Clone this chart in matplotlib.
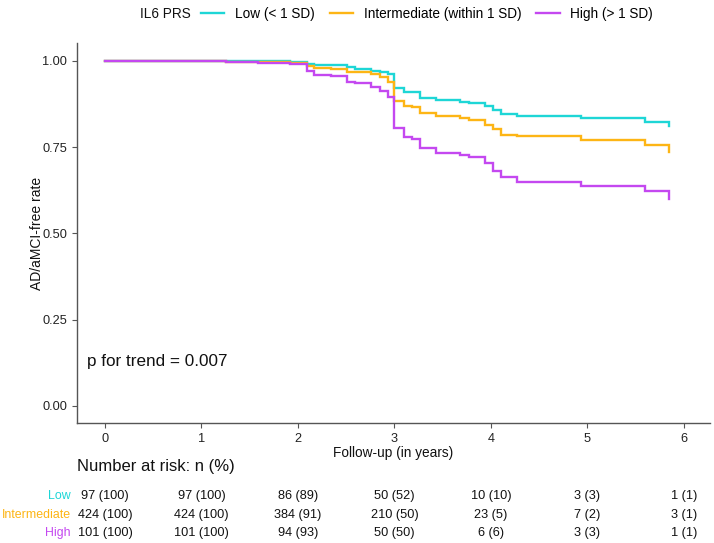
import numpy as np
import matplotlib
matplotlib.use('Agg')
import matplotlib.pyplot as plt
from matplotlib.lines import Line2D

plt.rcParams['font.family'] = ['Liberation Sans', 'DejaVu Sans']

# survival curves (event time, survival after the step)
groups = ['Low', 'Intermediate', 'High']
legend_labels = ['Low (< 1 SD)', 'Intermediate (within 1 SD)', 'High (> 1 SD)']
colors = ['#1ED6D6', '#FDB515', '#C448F0']

low_t = [0, 1.92, 2.09, 2.17, 2.51, 2.59, 2.76, 2.85, 2.93, 3.00, 3.10, 3.26, 3.43,
         3.68, 3.77, 3.94, 4.02, 4.10, 4.27, 4.93, 5.60, 5.84]
low_s = [1.0, 0.997, 0.991, 0.987, 0.983, 0.978, 0.972, 0.967, 0.962, 0.921, 0.911,
         0.892, 0.887, 0.882, 0.879, 0.868, 0.858, 0.846, 0.841, 0.834, 0.823, 0.810]

mid_t = [0, 1.25, 1.92, 2.09, 2.17, 2.34, 2.51, 2.76, 2.85, 2.93, 3.00, 3.10, 3.18,
         3.26, 3.43, 3.68, 3.77, 3.94, 4.02, 4.10, 4.27, 4.93, 5.60, 5.84]
mid_s = [1.0, 0.998, 0.994, 0.986, 0.980, 0.976, 0.969, 0.961, 0.953, 0.940, 0.885,
         0.870, 0.865, 0.848, 0.839, 0.834, 0.829, 0.814, 0.802, 0.786, 0.781, 0.771,
         0.756, 0.737]

high_t = [0, 1.25, 1.59, 1.92, 2.09, 2.17, 2.34, 2.51, 2.59, 2.76, 2.85, 2.93, 3.00,
          3.10, 3.18, 3.26, 3.43, 3.68, 3.77, 3.94, 4.02, 4.10, 4.27, 4.93, 5.60, 5.84]
high_s = [1.0, 0.997, 0.994, 0.990, 0.972, 0.959, 0.955, 0.940, 0.935, 0.923, 0.913,
          0.895, 0.805, 0.779, 0.773, 0.747, 0.734, 0.728, 0.721, 0.705, 0.682, 0.662,
          0.650, 0.638, 0.624, 0.600]

curves = [(low_t, low_s), (mid_t, mid_s), (high_t, high_s)]

# number at risk table
risk_times = [0, 1, 2, 3, 4, 5, 6]
risk_low = ['97 (100)', '97 (100)', '86 (89)', '50 (52)', '10 (10)', '3 (3)', '1 (1)']
risk_mid = ['424 (100)', '424 (100)', '384 (91)', '210 (50)', '23 (5)', '7 (2)', '3 (1)']
risk_high = ['101 (100)', '101 (100)', '94 (93)', '50 (50)', '6 (6)', '3 (3)', '1 (1)']
risk_rows = [risk_low, risk_mid, risk_high]

W, H = 714, 543
fig = plt.figure(figsize=(W / 100, H / 100), dpi=100)
ax = fig.add_axes([77 / W, 1 - 423 / H, (710 - 77) / W, (423 - 43) / H])

for (t, s), c in zip(curves, colors):
    ax.step(t, s, where='post', color=c, lw=1.7, solid_joinstyle='miter')

ax.set_xlim(-0.29, 6.27)
ax.set_ylim(-0.05, 1.052)
ax.set_xticks(risk_times)
ax.set_yticks([0, 0.25, 0.5, 0.75, 1.0])
ax.set_yticklabels(['0.00', '0.25', '0.50', '0.75', '1.00'])
for side in ['top', 'right']:
    ax.spines[side].set_visible(False)
for side in ['left', 'bottom']:
    ax.spines[side].set_color('#555555')
    ax.spines[side].set_linewidth(1.0)
ax.tick_params(colors='#555555', labelcolor='#222222', labelsize=9.2, length=3.5, width=0.8)
ax.set_xlabel('Follow-up (in years)', fontsize=9.8, color='#111111', labelpad=1)
ax.set_ylabel('AD/aMCI-free rate', fontsize=10, color='#111111', labelpad=-1)

ax.text(-0.19, 0.128, 'p for trend = 0.007', fontsize=12.3, va='center', ha='left', color='#111111')

# legend across the top
fig.text(140 / W, 1 - 14 / H, 'IL6 PRS', fontsize=9.8, va='center', ha='left', color='#111111')
handles = [Line2D([], [], color=c, lw=1.7) for c in colors]
fig.legend(handles, legend_labels, ncol=3, loc='center left',
           bbox_to_anchor=(201 / W, 1 - 14 / H), frameon=False, fontsize=9.8,
           handlelength=1.7, handletextpad=0.8, columnspacing=1.1, borderpad=0,
           borderaxespad=0)

# risk table
fig.text(77 / W, 1 - 467 / H, 'Number at risk: n (%)', fontsize=12, va='center', ha='left', color='#111111')
row_y = [496, 515, 533]
xmin, xmax = ax.get_xlim()
for g, c, row, yy in zip(groups, colors, risk_rows, row_y):
    fig.text(71 / W, 1 - yy / H, g, fontsize=8.9, color=c, ha='right', va='center')
    for tt, val in zip(risk_times, row):
        xf = (77 + (tt - xmin) / (xmax - xmin) * (710 - 77)) / W
        fig.text(xf, 1 - yy / H, val, fontsize=9.2, color='#111111', ha='center', va='center')

fig.savefig('out.png', dpi=100)
